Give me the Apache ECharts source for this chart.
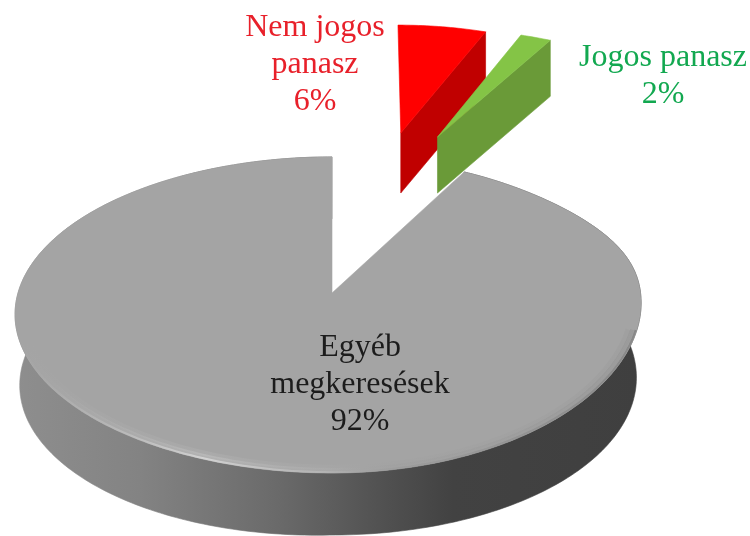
<!DOCTYPE html>
<html><head><meta charset="utf-8">
<style>html,body{margin:0;padding:0;background:#fff}#c{width:750px;height:536px}</style>
<script src="https://cdn.jsdelivr.net/npm/echarts@6/dist/echarts.min.js"></script>
</head><body><div id="c"></div>
<script>
// data, clockwise from 12 o'clock
const categories = ['Nem jogos panasz', 'Jogos panasz', 'Egyéb megkeresések'];
const values = [6, 2, 92];
const labelLines = [['Nem jogos', 'panasz'], ['Jogos panasz'], ['Egyéb', 'megkeresések']];

// look of the chart
const topColors = ['#ff0000', '#84c446', '#a4a4a4'];
const wallColors = ['#c00000', '#6a9a38', null];
const labelColors = ['#e8202a', '#12a850', '#1c1c1c'];
const explodeU = [0.26, 0.398, 0];
const explodeV = [1.205, 1.17, 0];
const radiusScale = [1.07, 1.07, 1];
const widthScale = [0.95, 1, 1];
const sliceLean = [5, 3, 0];
const wallDepth = [60, 56, 62];
const labelCentre = [[315, 28], [663, 58], [360, 348]];

const X0 = 332, Y0 = 293, R = 310, A = 155, P = 0.139, LEAN = 4, LINE = 37;
const total = values.reduce((a, b) => a + b, 0);

function project(u, v, drop, shrink) {
  const w = 1 + P * v;
  let x = X0 + R * u / w - LEAN * u * u;
  let y = Y0 - A * v / w + (drop || 0);
  if (shrink) {
    x = X0 - 4 + (x - (X0 - 4)) * shrink;
    if (u < 0) y += 9 * (-u);   // the far-left foot of the wall sags a little
  } else if (u > 0 && v < 0.85) {
    // the near-right rim of the top face sits a little higher
    const t = Math.min(1, (0.85 - v) / 0.95);
    y -= 13 * u * u * t * t * (3 - 2 * t);
  }
  return [x, y];
}
function sliceGeometry(i) {
  let a0 = 0;
  for (let k = 0; k < i; k++) a0 += values[k] / total * 360;
  const a1 = a0 + values[i] / total * 360;
  const arc = [];
  const n = Math.max(2, Math.ceil(a1 - a0));
  for (let k = 0; k <= n; k++) {
    const a = (a0 + (a1 - a0) * k / n) * Math.PI / 180;
    arc.push({u: explodeU[i] + widthScale[i] * radiusScale[i] * Math.sin(a),
              v: explodeV[i] + radiusScale[i] * Math.cos(a), a: a,
              dx: sliceLean[i] * Math.cos(a)});
  }
  return {arc, apex: {u: explodeU[i], v: explodeV[i], dx: 0}};
}
function pt(p, drop, shrink) {
  const q = project(p.u, p.v, drop, shrink);
  q[0] += p.dx || 0;
  return q;
}
function wall(pts, drop, shrink, fill) {
  const top = pts.map(p => pt(p));
  const bot = pts.map(p => pt(p, drop, shrink)).reverse();
  return {type: 'polygon', shape: {points: top.concat(bot)}, style: {fill: fill, stroke: fill, lineWidth: 0.6}};
}
const grayWallFill = {type: 'linear', x: 0, y: 0, x2: 1, y2: 0, colorStops: [
  {offset: 0, color: '#8e8e8e'}, {offset: 0.2, color: '#838383'}, {offset: 0.42, color: '#6a6a6a'},
  {offset: 0.58, color: '#525252'}, {offset: 0.7, color: '#424242'}, {offset: 1, color: '#3f3f3f'}]};
const rimFill = {type: 'linear', x: 0, y: 0, x2: 1, y2: 0, colorStops: [
  {offset: 0, color: 'rgba(190,190,190,0)'}, {offset: 0.1, color: 'rgba(200,200,200,0.5)'},
  {offset: 0.3, color: 'rgba(228,228,228,1)'}, {offset: 0.5, color: 'rgba(195,195,195,0.6)'},
  {offset: 0.62, color: 'rgba(130,130,130,0.3)'}, {offset: 1, color: 'rgba(90,90,90,0.55)'}]};

function renderSlice(params, api) {
  const i = api.value(0);
  const g = sliceGeometry(i);
  const children = [];
  const isMain = !wallColors[i];
  const d = wallDepth[i];
  if (isMain) {
    children.push(wall(g.arc, d, 0.985, grayWallFill));
  } else {
    children.push(wall([g.apex, g.arc[g.arc.length - 1]], d, 0, wallColors[i]));
  }
  const outline = [pt(g.apex)].concat(g.arc.map(p => pt(p)));
  children.push({type: 'polygon', shape: {points: outline}, style: {fill: topColors[i], stroke: topColors[i], lineWidth: 0.6}});
  if (isMain) {
    // soft bevel along the near rim of the big slice
    const nearArc = g.arc.filter(p => Math.cos(p.a) < -0.3);
    [[0.972, 5, 0.10], [0.985, 4, 0.22], [0.996, 2, 0.7]].forEach(b => {
      const pts = nearArc.map(p => project(p.u * b[0], p.v * b[0]));
      children.push({type: 'polyline', shape: {points: pts}, style: {fill: null, stroke: rimFill, lineWidth: b[1], opacity: b[2]}});
    });
  }
  return {type: 'group', children: children};
}
function renderLabel(params, api) {
  const i = api.value(0);
  const lines = labelLines[i].concat([values[i] + '%']);
  return {type: 'group', children: lines.map((t, k) => ({
    type: 'text',
    style: {x: labelCentre[i][0], y: labelCentre[i][1] + k * LINE, text: t, fill: labelColors[i],
      font: '32px "Liberation Serif"', align: 'center', verticalAlign: 'middle'}
  }))};
}
const rows = values.map((v, i) => [i, v, categories[i]]);
const chart = echarts.init(document.getElementById('c'), null, {renderer: 'canvas'});
chart.setOption({
  animation: false,
  backgroundColor: '#ffffff',
  series: [
    {type: 'custom', coordinateSystem: 'none', silent: true, z: 2, data: rows, renderItem: renderSlice},
    {type: 'custom', coordinateSystem: 'none', silent: true, z: 3, data: rows, renderItem: renderLabel}
  ]
});
</script></body></html>
